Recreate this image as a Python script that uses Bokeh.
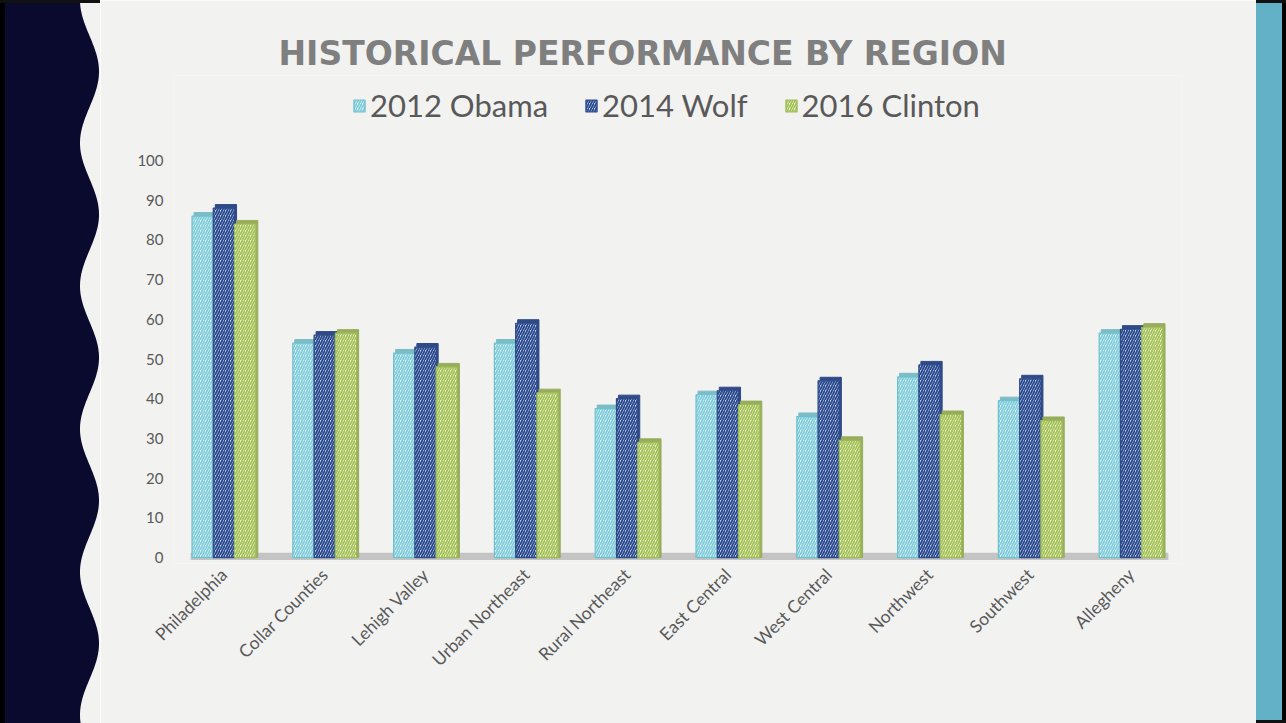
import math
import numpy as np
from bokeh.plotting import figure
from bokeh.layouts import row
from bokeh.models import (FactorRange, Range1d, FixedTicker, Legend, LegendItem,
                          BoxAnnotation, ColumnDataSource, Div)
from bokeh.transform import dodge
from bokeh.embed import file_html
from bokeh.resources import INLINE

# ---------------- data ----------------
regions = ["Philadelphia", "Collar Counties", "Lehigh Valley", "Urban Northeast",
           "Rural Northeast", "East Central", "West Central", "Northwest",
           "Southwest", "Allegheny"]
obama_2012 = [86, 54, 51.5, 54, 37.5, 41, 35.5, 45.5, 39.5, 56.5]
wolf_2014 = [88, 56, 53, 59, 40, 42, 44.5, 48.5, 45, 57.5]
clinton_2016 = [84, 56.5, 48, 41.5, 29, 38.5, 29.5, 36, 34.5, 58]
series_labels = ["2012 Obama", "2014 Wolf", "2016 Clinton"]
y_ticks = [0, 10, 20, 30, 40, 50, 60, 70, 80, 90, 100]
chart_title = "HISTORICAL PERFORMANCE BY REGION"

# ---------------- style ----------------
BG = "#f2f2f1"
NAVY = "#0a0a2e"
TEAL = "#62b1c6"
TXT = "#595959"
H = 723
FONT = "Lato"

# ---------------- left decorative wave (pure decoration) ----------------
wy = np.linspace(0, H, 500)
edge = 80 + 9.5 * (1 - np.cos(2 * np.pi * wy / 143.0))
path = "M0,0 " + " ".join(f"L{x:.2f},{y:.2f}" for x, y in zip(edge, wy)) + f" L0,{H} Z"
left_svg = (f'<svg width="100" height="{H}" style="display:block">'
            f'<rect x="0" y="0" width="100" height="{H}" fill="{BG}"/>'
            f'<path d="{path}" fill="{NAVY}"/>'
            f'<rect x="0" y="0" width="5" height="{H}" fill="#000"/>'
            f'<rect x="0" y="0" width="100" height="3" fill="#111"/>'
            f'</svg>')
left = Div(text=left_svg, width=100, height=H, margin=0)

right_svg = (f'<svg width="30" height="{H}" style="display:block">'
             f'<rect x="0" y="0" width="26" height="{H}" fill="{TEAL}"/>'
             f'<rect x="26" y="0" width="4" height="{H}" fill="#000"/>'
             f'<rect x="0" y="0" width="30" height="3" fill="#111"/>'
             f'<rect x="0" y="{H-3}" width="30" height="3" fill="#111"/>'
             f'</svg>')
right = Div(text=right_svg, width=30, height=H, margin=0)

# ---------------- main chart ----------------
src = ColumnDataSource(dict(
    region=regions,
    obama=obama_2012, wolf=wolf_2014, clinton=clinton_2016,
    obama_cap=[v + 0.9 for v in obama_2012],
    wolf_cap=[v + 0.9 for v in wolf_2014],
    clinton_cap=[v + 0.9 for v in clinton_2016],
))

p = figure(width=1156, height=H,
           x_range=FactorRange(*regions), y_range=Range1d(-1.5, 121.4),
           title=chart_title,
           toolbar_location=None, output_backend="svg",
           min_border_left=73, min_border_right=75,
           min_border_top=75, min_border_bottom=160,
           outline_line_color=None, background_fill_color=BG,
           border_fill_color=BG)

p.title.align = "left"
p.title.text_font = "DejaVu Sans"
p.title.text_font_size = "33px"
p.title.text_font_style = "bold"
p.title.text_color = "#7f7f7f"
p.title.offset = 105
p.title.standoff = 6

p.xgrid.visible = False
p.ygrid.visible = False

# floor
p.add_layout(BoxAnnotation(bottom=-0.6, top=1.2, left=0.17, right=9.87,
                           fill_color="#c4c4c4", fill_alpha=1,
                           line_color=None, level="underlay"))

w = 0.211
specs = [
    ("obama", -w, "#e6f7fa", "#7fcbd9", "#6fc0ce", "#7bbcc6"),
    ("wolf", 0.0, "#bccdf2", "#284688", "#2e4b88", "#2f4a86"),
    ("clinton", w, "#f1f7d8", "#a2c055", "#9bbb59", "#98ad5c"),
]
renderers = []
for key, off, fill, hatch, line, side in specs:
    p.vbar(x=dodge("region", off + 0.02, range=p.x_range), top=key + "_cap",
           bottom=0, width=w, source=src, fill_color=side, line_color=side,
           line_width=1)
    r = p.vbar(x=dodge("region", off, range=p.x_range), top=key, bottom=0,
               width=w, source=src, fill_color=fill, line_color=line,
               line_width=1.2, hatch_pattern="/", hatch_color=hatch,
               hatch_weight=1.7, hatch_scale=5)
    renderers.append(r)

legend = Legend(items=[LegendItem(label=lab, renderers=[r])
                       for lab, r in zip(series_labels, renderers)],
                orientation="horizontal", location=(179, 438))
legend.background_fill_alpha = 0
legend.border_line_color = None
legend.label_text_font = FONT
legend.label_text_font_size = "31px"
legend.label_text_color = TXT
legend.label_height = 40
legend.glyph_width = 14
legend.glyph_height = 15
legend.label_standoff = 4
legend.spacing = 36
legend.padding = 0
legend.margin = 0
p.add_layout(legend, "center")

p.yaxis.ticker = FixedTicker(ticks=y_ticks)
p.yaxis.axis_line_color = None
p.yaxis.major_tick_line_color = None
p.yaxis.major_tick_out = 0
p.yaxis.minor_tick_line_color = None
p.yaxis.major_label_text_font = FONT
p.yaxis.major_label_text_font_size = "15px"
p.yaxis.major_label_text_color = TXT
p.yaxis.major_label_standoff = 10

p.xaxis.axis_line_color = None
p.xaxis.major_tick_line_color = None
p.xaxis.major_tick_out = 0
p.xaxis.major_label_orientation = math.pi / 4
p.xaxis.major_label_text_font = FONT
p.xaxis.major_label_text_font_size = "17.5px"
p.xaxis.major_label_text_color = TXT
p.xaxis.major_label_standoff = 8

layout = row(left, p, right)
open("out.html", "w").write(file_html(layout, INLINE))
